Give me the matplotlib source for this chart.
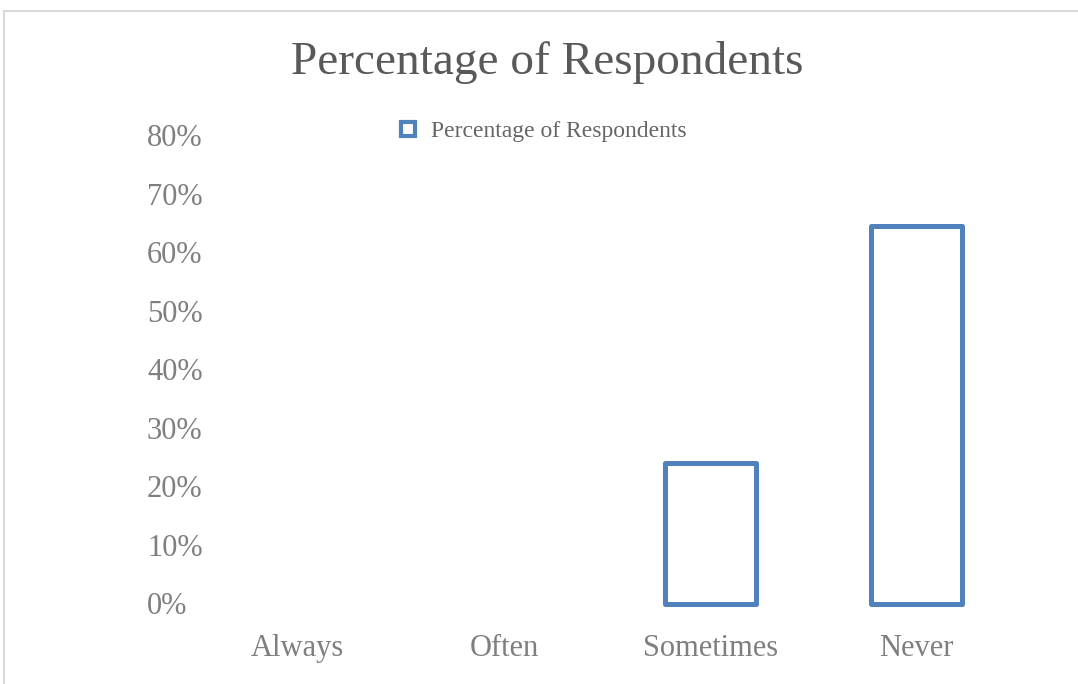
import matplotlib
matplotlib.use("Agg")
import matplotlib.pyplot as plt
from matplotlib.lines import Line2D
from matplotlib.patches import Rectangle

categories = ["Always", "Often", "Sometimes", "Never"]
percent = [0.0, 0.0, 0.24, 0.645]
y_ticks = [0.0, 0.1, 0.2, 0.3, 0.4, 0.5, 0.6, 0.7, 0.8]
y_tick_labels = ["0%", "10%", "20%", "30%", "40%", "50%", "60%", "70%", "80%"]
series_name = "Percentage of Respondents"
chart_title = "Percentage of Respondents"

BLUE = "#4f81bd"
FONT = "Liberation Serif"

W, H = 1078, 684
fig = plt.figure(figsize=(W / 100, H / 100), dpi=100)
fig.patch.set_facecolor("white")

# light chart-area frame (top and left edges visible)
fig.add_artist(Rectangle((4 / W, -0.5), 2.0, 1.5 - 11 / H,
                         transform=fig.transFigure, fill=False,
                         edgecolor="#d9d9d9", linewidth=1.5, clip_on=False))

ax = fig.add_axes([215 / W, (H - 603.5) / H, 805 / W, 468.5 / H])
ax.set_facecolor("none")

x = list(range(len(categories)))
edges = [BLUE if v > 0 else "none" for v in percent]
bars = ax.bar(x, percent, width=0.44, facecolor="white", edgecolor=edges,
              linewidth=3.6)
for b in bars:
    b.set_joinstyle("round")
    b.set_clip_on(False)

ax.set_xlim(-0.4, 3.5)
ax.set_ylim(0, 0.8)
ax.set_yticks(y_ticks)
ax.set_yticklabels(y_tick_labels, fontfamily=FONT, fontsize=22, color="#7f7f7f")
for lbl in ax.get_yticklabels():
    lbl.set_horizontalalignment("left")
ax.tick_params(axis="y", length=0, pad=49)

ax.set_xticks(x)
ax.set_xticklabels(categories, fontfamily=FONT, fontsize=22, color="#7f7f7f")
ax.tick_params(axis="x", length=0, pad=22)

for s in ax.spines.values():
    s.set_visible(False)

fig.text(547 / W, 1 - 63 / H, chart_title, ha="center", va="center",
         fontfamily=FONT, fontsize=34, color="#595959")

handle = Line2D([], [], marker="s", linestyle="none", markersize=10,
                markerfacecolor="white", markeredgecolor=BLUE,
                markeredgewidth=3)
fig.legend([handle], [series_name], loc="center left",
           bbox_to_anchor=(396 / W, 1 - 131 / H), frameon=False,
           borderpad=0, borderaxespad=0, handlelength=1.0,
           handletextpad=0.5, prop={"family": FONT, "size": 17},
           labelcolor="#666666")

fig.savefig("out.png", dpi=100, facecolor="white")
